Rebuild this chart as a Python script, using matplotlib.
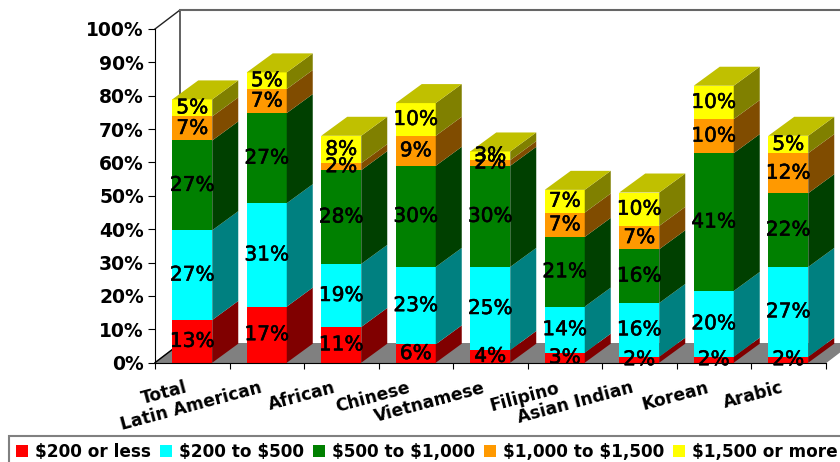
import matplotlib
matplotlib.use("Agg")
import matplotlib.pyplot as plt
import matplotlib.patheffects as pe
from matplotlib.transforms import ScaledTranslation
import numpy as np

categories = ["Total", "Latin American", "African", "Chinese", "Vietnamese",
              "Filipino", "Asian Indian", "Korean", "Arabic"]
series = [r"\$200 or less", r"\$200 to \$500", r"\$500 to \$1,000", r"\$1,000 to \$1,500", r"\$1,500 or more"]

under_200 = [12.8, 16.8, 10.7, 5.5, 3.8, 3.0, 1.8, 1.8, 1.8]
from_200 = [26.9, 31.0, 18.9, 23.2, 24.9, 13.8, 16.1, 19.7, 26.9]
from_500 = [26.9, 27.0, 28.1, 30.3, 30.3, 20.9, 16.1, 41.3, 22.1]
from_1000 = [7.2, 7.2, 2.1, 9.0, 1.7, 7.3, 7.0, 10.2, 12.0]
over_1500 = [5.1, 5.0, 8.2, 9.8, 2.6, 6.8, 10.0, 10.0, 5.2]
values = [under_200, from_200, from_500, from_1000, over_1500]

front_colors = ["#ff0000", "#00ffff", "#008000", "#ff9900", "#ffff00"]
side_colors = ["#800000", "#008080", "#004000", "#804c00", "#808000"]
top_color = "#c0c000"

# depth of the fake 3d, in data units (26 px across, 19 px up)
depth_x = 26 / 74.5
depth_y = 19 / 3.337
bar_w = 40 / 74.5

plt.rcParams["font.family"] = "DejaVu Sans"

fig = plt.figure(figsize=(8.4, 4.62), dpi=100)
ax = fig.add_axes([155 / 840, (462 - 362.7) / 462, 670.5 / 840, 333.7 / 462])
ax.set_xlim(-0.5, 8.5)
ax.set_ylim(0, 100)

# floor and back wall
wall_x = -0.5 + 25 / 74.5
ax.fill([-0.5, 8.5, 8.5 + 25 / 74.5, wall_x], [0, 0, depth_y, depth_y],
        color="#808080", clip_on=False, zorder=1)
ax.plot([-0.5, wall_x, wall_x], [100, 105.7, depth_y], color="#222222", lw=1, clip_on=False, zorder=1)
ax.plot([wall_x, 9.5], [105.7, 105.7], color="#666666", lw=1.5, clip_on=False, zorder=1)
ax.plot([-0.5, wall_x], [0, depth_y], color="black", lw=1, clip_on=False, zorder=1)

x = np.arange(len(categories))
bottom = np.zeros(len(categories))
labels = []
for s, vals in enumerate(values):
    vals = np.array(vals)
    ax.bar(x, vals, bar_w, bottom=bottom, color=front_colors[s], label=series[s], clip_on=False, zorder=3)
    for i in x:
        xr = i + bar_w / 2
        ax.fill([xr, xr + depth_x, xr + depth_x, xr],
                [bottom[i], bottom[i] + depth_y, bottom[i] + vals[i] + depth_y, bottom[i] + vals[i]],
                color=side_colors[s], lw=0, clip_on=False, zorder=3)
        labels.append((i, bottom[i] + vals[i] / 2, vals[i]))
    bottom = bottom + vals

for i in x:
    xl = i - bar_w / 2
    xr = i + bar_w / 2
    ax.fill([xl, xr, xr + depth_x, xl + depth_x],
            [bottom[i], bottom[i], bottom[i] + depth_y, bottom[i] + depth_y],
            color=top_color, lw=0, clip_on=False, zorder=3)

for i, y, v in labels:
    ax.text(i, y, f"{v:.0f}%", ha="center", va="center", fontsize=14.5, color="black", zorder=5,
            path_effects=[pe.withStroke(linewidth=0.4, foreground="black")])

for side in ["top", "right"]:
    ax.spines[side].set_visible(False)
ax.spines["left"].set_zorder(2)
ax.spines["bottom"].set_zorder(4)
ax.patch.set_visible(False)

ax.set_yticks(np.arange(0, 101, 10))
ax.set_yticklabels([f"{t}%" for t in range(0, 101, 10)], fontsize=13.5, fontweight="bold")
ax.tick_params(axis="y", length=5, pad=3)

ax.set_xticks(np.arange(-0.5, 9, 1))
ax.set_xticklabels([])
ax.set_xticks(x, minor=True)
ax.set_xticklabels(categories, minor=True, rotation=15, ha="right", rotation_mode="anchor",
                   fontsize=12.3, fontweight="bold")
ax.tick_params(axis="x", which="major", length=4)
ax.tick_params(axis="x", which="minor", length=0, pad=11.5)
shift = ScaledTranslation(-8 / 100, 0, fig.dpi_scale_trans)
for lab in ax.get_xticklabels(minor=True):
    lab.set_transform(lab.get_transform() + shift)

leg = ax.legend(loc="upper left", bbox_to_anchor=(9 / 840, 26 / 462), bbox_transform=fig.transFigure,
                ncol=5, frameon=True, fancybox=False, edgecolor="#808080", framealpha=1,
                prop={"size": 12.2, "weight": "bold"}, handlelength=0.7, handleheight=0.7,
                handletextpad=0.4, columnspacing=0.55, borderaxespad=0, borderpad=0.42)
leg.get_frame().set_linewidth(1.5)

fig.savefig("out.png", dpi=100)
